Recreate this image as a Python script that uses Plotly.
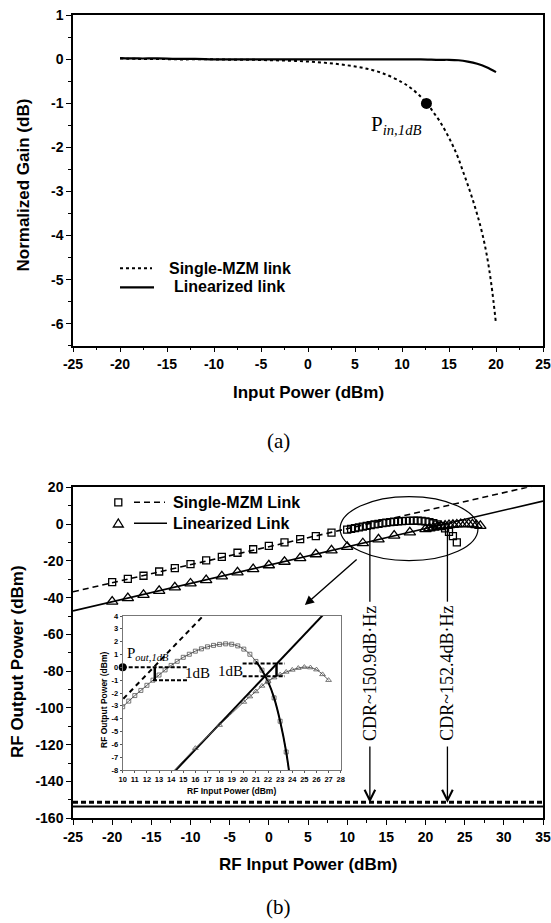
import plotly.graph_objects as go

W, H = 551, 923

# ---------------- panel (a) data ----------------
a_single_x = [-20, -18, -16, -14, -12, -10, -8, -6, -4, -2, 0, 2, 4, 6, 8, 10, 11, 12, 12.5,
              13, 13.5, 14, 14.5, 15, 15.5, 16, 16.5, 17, 17.5, 18, 18.5, 19, 19.5, 20]
a_single_y = [0.02, 0.01, 0.01, 0.0, 0.0, 0.0, -0.01, -0.01, -0.02, -0.03, -0.05, -0.08, -0.13,
              -0.2, -0.32, -0.52, -0.66, -0.85, -0.97, -1.1, -1.25, -1.4, -1.58, -1.78, -2.0,
              -2.25, -2.55, -2.85, -3.17, -3.52, -3.92, -4.42, -5.1, -6.0]
a_lin_x = [-20, -18, -16, -14, -12, -10, -8, -6, -4, -2, 0, 2, 4, 6, 8, 10, 12, 14, 15, 16,
           17, 18, 19, 20]
a_lin_y = [0.03, 0.02, 0.02, 0.01, 0.01, 0.0, 0.0, 0.0, 0.0, 0.0, 0.0, 0.0, 0.0, 0.0, 0.0, 0.0,
           0.0, -0.01, -0.01, -0.02, -0.05, -0.1, -0.18, -0.29]
pin_x = [12.6]
pin_y = [-1.0]
a_xticks = [-25, -20, -15, -10, -5, 0, 5, 10, 15, 20, 25]
a_xticktext = ["-25", "-20", "-15", "-10", "-5", "0", "5", "10", "15", "20", "25"]
a_yticks = [1, 0, -1, -2, -3, -4, -5, -6]
a_yticktext = ["1", "0", "-1", "-2", "-3", "-4", "-5", "-6"]

# ---------------- panel (b) data ----------------
b_single_x = [-20, -18, -16, -14, -12, -10, -8, -6, -4, -2, 0, 2, 4, 6, 8,
              10, 10.5, 11, 11.5, 12, 12.5, 13, 13.5, 14, 14.5, 15, 15.5, 16, 16.5, 17, 17.5,
              18, 18.5, 19, 19.5, 20, 20.5, 21, 21.5, 22, 22.5, 23, 23.5, 24]
b_single_y = [-31.6, -29.8, -28.1, -25.8, -24.0, -21.8, -19.7, -17.8, -15.6, -13.7, -11.9, -9.9,
              -8.2, -6.5, -4.6,
              -3.07, -2.63, -2.2, -1.8, -1.4, -1.0, -0.6, -0.2, 0.15, 0.47, 0.78, 1.02, 1.26,
              1.44, 1.6, 1.71, 1.79, 1.83, 1.8, 1.67, 1.42, 1.02, 0.46, -0.22, -1.12, -2.38,
              -4.2, -6.6, -10.0]
b_lin_x = [-20, -18, -16, -14, -12, -10, -8, -6, -4, -2, 0, 2, 4, 6, 8, 10, 12, 14, 16, 18,
           20, 20.5, 21, 21.5, 22, 22.5, 23, 23.5, 24, 24.5, 25, 25.5, 26, 26.5, 27]
b_lin_y = [-42.2, -40.3, -38.5, -36.3, -34.4, -32.3, -30.5, -28.4, -26.3, -24.5, -22.4, -20.5,
           -18.5, -16.4, -14.3, -12.4, -10.4, -8.3, -6.3, -4.5,
           -2.7, -2.28, -1.88, -1.45, -1.08, -0.8, -0.57, -0.36, -0.2, -0.06, 0.02, -0.02,
           -0.18, -0.55, -1.0]
fit_x = [-25, 35]
fit_single_y = [-36.8, 22.0]
fit_lin_y = [-47.2, 12.5]
floor_x = [-25, 35]
floor_single_y = [-151.3, -151.3]
floor_lin_y = [-153.6, -153.6]
cdr_x = [12.9, 22.8]
cdr_text = ["CDR~150.9dB·Hz", "CDR~152.4dB·Hz"]
b_xticks = [-25, -20, -15, -10, -5, 0, 5, 10, 15, 20, 25, 30, 35]
b_xticktext = ["-25", "-20", "-15", "-10", "-5", "0", "5", "10", "15", "20", "25", "30", "35"]
b_yticks = [20, 0, -20, -40, -60, -80, -100, -120, -140, -160]
b_yticktext = ["20", "0", "-20", "-40", "-60", "-80", "-100", "-120", "-140", "-160"]
in_xticks = list(range(10, 29))
in_xticktext = [str(v) for v in in_xticks]
in_yticks = list(range(-8, 5))
in_yticktext = [str(v) for v in in_yticks]

SANS = "Liberation Sans, Arial"
SERIF = "Liberation Serif, Times New Roman"


def fx(p):
    return p / W


def fy(p):
    return 1 - p / H


fig = go.Figure()

# ---- panel (a)
fig.add_trace(go.Scatter(x=a_single_x, y=a_single_y, mode="lines", xaxis="x", yaxis="y",
                         line=dict(color="black", width=2, dash="dot", shape="spline"),
                         showlegend=False))
fig.add_trace(go.Scatter(x=a_lin_x, y=a_lin_y, mode="lines", xaxis="x", yaxis="y",
                         line=dict(color="black", width=2.2, shape="spline"), showlegend=False))
fig.add_trace(go.Scatter(x=pin_x, y=pin_y, mode="markers", xaxis="x", yaxis="y",
                         marker=dict(size=11, color="black"), showlegend=False))

# ---- panel (b)
fig.add_trace(go.Scatter(x=fit_x, y=fit_single_y, mode="lines", xaxis="x2", yaxis="y2",
                         line=dict(color="black", width=1.6, dash="6px,4px"), showlegend=False))
fig.add_trace(go.Scatter(x=fit_x, y=fit_lin_y, mode="lines", xaxis="x2", yaxis="y2",
                         line=dict(color="black", width=1.6), showlegend=False))
fig.add_trace(go.Scatter(x=floor_x, y=floor_lin_y, mode="lines", xaxis="x2", yaxis="y2",
                         line=dict(color="black", width=2), showlegend=False))
fig.add_trace(go.Scatter(x=floor_x, y=floor_single_y, mode="lines", xaxis="x2", yaxis="y2",
                         line=dict(color="black", width=3, dash="5px,3px"), showlegend=False))
fig.add_trace(go.Scatter(x=b_single_x, y=b_single_y, mode="markers", xaxis="x2", yaxis="y2",
                         marker=dict(symbol="square-open", size=7, color="black",
                                     line=dict(width=1.3)), showlegend=False))
fig.add_trace(go.Scatter(x=b_lin_x, y=b_lin_y, mode="markers", xaxis="x2", yaxis="y2",
                         marker=dict(symbol="triangle-up-open", size=10, color="black",
                                     line=dict(width=1.3)), showlegend=False))

# ---- inset
fig.add_trace(go.Scatter(x=fit_x, y=fit_single_y, mode="lines", xaxis="x3", yaxis="y3",
                         line=dict(color="black", width=2, dash="5px,4px"), showlegend=False))
fig.add_trace(go.Scatter(x=fit_x, y=fit_lin_y, mode="lines", xaxis="x3", yaxis="y3",
                         line=dict(color="black", width=2), showlegend=False))
fig.add_trace(go.Scatter(x=b_single_x, y=b_single_y, mode="lines+markers", xaxis="x3", yaxis="y3",
                         line=dict(color="#555", width=1, shape="spline"),
                         marker=dict(symbol="square-open", size=4, color="#555",
                                     line=dict(width=0.8)), showlegend=False))
desc = [i for i, v in enumerate(b_single_x) if v >= 21]
fig.add_trace(go.Scatter(x=[b_single_x[i] for i in desc], y=[b_single_y[i] for i in desc],
                         mode="lines", xaxis="x3", yaxis="y3",
                         line=dict(color="black", width=2, shape="spline"), showlegend=False))
fig.add_trace(go.Scatter(x=b_lin_x, y=b_lin_y, mode="lines+markers", xaxis="x3", yaxis="y3",
                         line=dict(color="#555", width=1, shape="spline"),
                         marker=dict(symbol="triangle-up-open", size=5, color="#555",
                                     line=dict(width=0.8)), showlegend=False))
fig.add_trace(go.Scatter(x=[10], y=[0], mode="markers", xaxis="x3", yaxis="y3", cliponaxis=False,
                         marker=dict(size=8, color="black"), showlegend=False))

shapes = []
annotations = []

# 1 dB constructions in inset (style helpers)
for (xa, xb, yv) in [(10, 15.4, 0), (12.5, 15.4, -1), (19.9, 23.4, 0.3), (19.9, 23.4, -0.7)]:
    shapes.append(dict(type="line", xref="x3", yref="y3", x0=xa, x1=xb, y0=yv, y1=yv,
                       line=dict(color="black", width=2, dash="4px,2px")))
for (xv, ya, yb) in [(12.65, 0, -1), (22.7, 0.3, -0.7)]:
    shapes.append(dict(type="line", xref="x3", yref="y3", x0=xv, x1=xv, y0=ya, y1=yb,
                       line=dict(color="black", width=2.5)))
annotations.append(dict(xref="x3", yref="y3", x=15.0, y=-0.45, text="1dB", showarrow=False,
                        xanchor="left", yanchor="middle",
                        font=dict(family=SERIF, size=15, color="black")))
annotations.append(dict(xref="x3", yref="y3", x=20.1, y=-0.3, text="1dB", showarrow=False,
                        xanchor="right", yanchor="middle",
                        font=dict(family=SERIF, size=15, color="black")))
annotations.append(dict(xref="x3", yref="y3", x=10.2, y=1.05,
                        text="P<sub><i>out,1dB</i></sub>", showarrow=False, xanchor="left",
                        yanchor="middle", font=dict(family=SERIF, size=15, color="black")))

# ellipse + arrow in panel b
shapes.append(dict(type="circle", xref="x2", yref="y2", x0=9.1, x1=26.7, y0=-19.9, y1=14.9,
                   line=dict(color="black", width=1.2)))
annotations.append(dict(xref="x2", yref="y2", axref="x2", ayref="y2", x=4.6, y=-44.0,
                        ax=11.4, ay=-18.6, text="", showarrow=True, arrowhead=2,
                        arrowsize=1.3, arrowwidth=1.4, arrowcolor="black"))

for cx, txt in zip(cdr_x, cdr_text):
    shapes.append(dict(type="line", xref="x2", yref="y2", x0=cx, x1=cx, y0=-2, y1=-42.2,
                       line=dict(color="black", width=1.3)))
    annotations.append(dict(xref="x2", yref="y2", x=cx, y=-81.1, text=txt, textangle=-90,
                            xanchor="center", yanchor="middle", showarrow=False,
                            font=dict(family=SERIF, size=18, color="black")))
    annotations.append(dict(xref="x2", yref="y2", axref="x2", ayref="y2", x=cx, y=-151.5,
                            ax=cx, ay=-120.1, text="", showarrow=True, arrowhead=5,
                            arrowsize=1.6, arrowwidth=1.3, arrowcolor="black"))

# P_in,1dB label
annotations.append(dict(xref="paper", yref="paper", x=fx(369), y=fy(125), xanchor="left",
                        yanchor="middle", text="P<sub><i>in,1dB</i></sub>", showarrow=False,
                        font=dict(family=SERIF, size=21, color="black")))

# legend (a)
shapes.append(dict(type="line", xref="paper", yref="paper", x0=fx(120), x1=fx(152),
                   y0=fy(268.3), y1=fy(268.3), line=dict(color="black", width=2, dash="dot")))
shapes.append(dict(type="line", xref="paper", yref="paper", x0=fx(120), x1=fx(154),
                   y0=fy(287.3), y1=fy(287.3), line=dict(color="black", width=2.2)))
annotations.append(dict(xref="paper", yref="paper", x=fx(166.5), y=fy(268), xanchor="left",
                        yanchor="middle", text="Single-MZM link", showarrow=False,
                        font=dict(family=SANS, size=16, color="black", weight="bold")))
annotations.append(dict(xref="paper", yref="paper", x=fx(172), y=fy(287), xanchor="left",
                        yanchor="middle", text="Linearized link", showarrow=False,
                        font=dict(family=SANS, size=16, color="black", weight="bold")))

# legend (b)
shapes.append(dict(type="rect", xref="paper", yref="paper", x0=fx(114.8), x1=fx(121.8),
                   y0=fy(498.8), y1=fy(505.8), line=dict(color="black", width=1.3)))
shapes.append(dict(type="path", xref="paper", yref="paper",
                   path="M %f,%f L %f,%f L %f,%f Z" % (fx(113.3), fy(527), fx(123.3), fy(527),
                                                       fx(118.3), fy(519)),
                   line=dict(color="black", width=1.3)))
shapes.append(dict(type="line", xref="paper", yref="paper", x0=fx(134), x1=fx(165),
                   y0=fy(502.3), y1=fy(502.3), line=dict(color="black", width=1.6, dash="6px,4px")))
shapes.append(dict(type="line", xref="paper", yref="paper", x0=fx(134), x1=fx(167),
                   y0=fy(523.3), y1=fy(523.3), line=dict(color="black", width=1.6)))
annotations.append(dict(xref="paper", yref="paper", x=fx(171), y=fy(502), xanchor="left",
                        yanchor="middle", text="Single-MZM Link", showarrow=False,
                        font=dict(family=SANS, size=16, color="black", weight="bold")))
annotations.append(dict(xref="paper", yref="paper", x=fx(171), y=fy(523), xanchor="left",
                        yanchor="middle", text="Linearized Link", showarrow=False,
                        font=dict(family=SANS, size=16, color="black", weight="bold")))

# axis titles and captions
def ptext(x, y, text, size, family=SANS, bold=True, angle=0):
    annotations.append(dict(xref="paper", yref="paper", x=fx(x), y=fy(y), text=text,
                            textangle=angle, showarrow=False, xanchor="center",
                            yanchor="middle",
                            font=dict(family=family, size=size, color="black",
                                      weight="bold" if bold else "normal")))

ptext(23.5, 185, "Normalized Gain (dB)", 17, angle=-90)
ptext(308, 392, "Input Power (dBm)", 17)
ptext(278, 441, "(a)", 21, family=SERIF, bold=False)
ptext(17, 662, "RF Output Power (dBm)", 17, angle=-90)
ptext(308, 864, "RF Input Power (dBm)", 17)
ptext(278, 907, "(b)", 21, family=SERIF, bold=False)
ptext(104, 700, "RF Output Power (dBm)", 8.5, angle=-90)
ptext(231, 791, "RF Input Power (dBm)", 8.5)

axis_common = dict(showgrid=False, zeroline=False, showline=True, linecolor="black",
                   linewidth=1.5, mirror=True, ticks="outside", ticklen=5, tickwidth=1.3,
                   tickcolor="black", automargin=False,
                   tickfont=dict(family=SANS, size=14, color="black", weight="bold"))

fig.update_layout(
    width=W, height=H, margin=dict(l=0, r=0, t=0, b=0, autoexpand=False),
    paper_bgcolor="white", plot_bgcolor="white", showlegend=False,
    xaxis=dict(domain=[fx(73), fx(543)], anchor="y", range=[-25, 25],
               tickvals=a_xticks, ticktext=a_xticktext,
               minor=dict(ticks="outside", ticklen=3, dtick=2.5, tick0=0, tickcolor="black"),
               **axis_common),
    yaxis=dict(domain=[fy(345.7), fy(15.3)], anchor="x", range=[-6.5, 1],
               tickvals=a_yticks, ticktext=a_yticktext,
               minor=dict(ticks="outside", ticklen=3, dtick=0.5, tick0=0, tickcolor="black"),
               **axis_common),
    xaxis2=dict(domain=[fx(73), fx(543)], anchor="y2", range=[-25, 35],
                tickvals=b_xticks, ticktext=b_xticktext,
                minor=dict(ticks="outside", ticklen=3, dtick=2.5, tick0=0, tickcolor="black"),
                **axis_common),
    yaxis2=dict(domain=[fy(818.3), fy(487.3)], anchor="x2", range=[-160, 20],
                tickvals=b_yticks, ticktext=b_yticktext,
                minor=dict(ticks="outside", ticklen=3, dtick=10, tick0=0, tickcolor="black"),
                **axis_common),
    xaxis3=dict(domain=[fx(122.7), fx(340.7)], anchor="y3", range=[10, 28],
                tickvals=in_xticks, ticktext=in_xticktext, showgrid=False, zeroline=False,
                showline=True, linecolor="#777", linewidth=1, mirror=True, ticks="outside",
                ticklen=2, tickcolor="#555", automargin=False,
                tickfont=dict(family=SANS, size=7.5, color="black", weight="bold")),
    yaxis3=dict(domain=[fy(770), fy(616)], anchor="x3", range=[-8, 4],
                tickvals=in_yticks, ticktext=in_yticktext, showgrid=False, zeroline=False,
                showline=True, linecolor="#777", linewidth=1, mirror=True, ticks="outside",
                ticklen=2, tickcolor="#555", automargin=False,
                tickfont=dict(family=SANS, size=7.5, color="black", weight="bold")),
    shapes=shapes, annotations=annotations,
)

fig.write_html("out.html")
